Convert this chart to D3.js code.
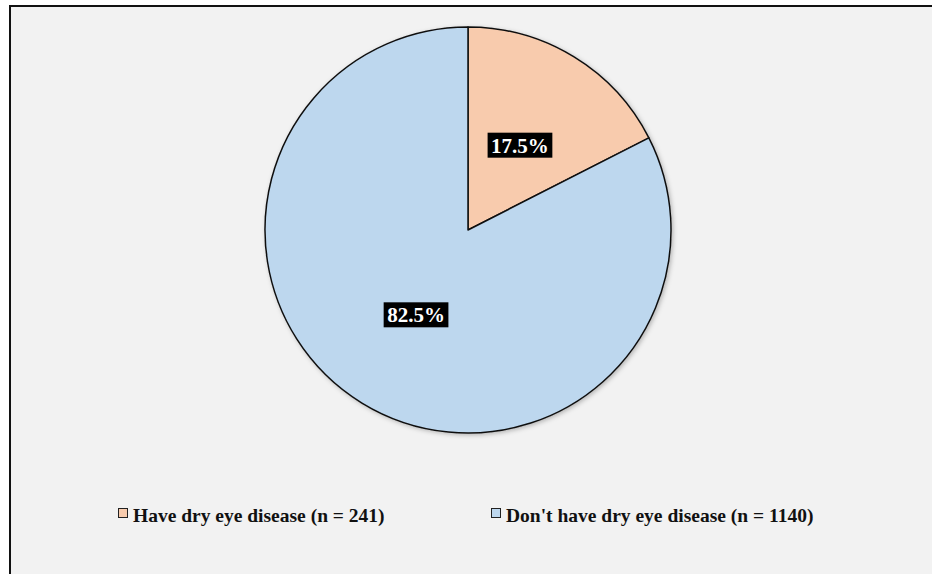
<!DOCTYPE html>
<html>
<head>
<meta charset="utf-8">
<script src="https://cdn.jsdelivr.net/npm/d3@7/dist/d3.min.js"></script>
<style>
  html, body { margin: 0; padding: 0; background: #ffffff; }
  svg { display: block; }
</style>
</head>
<body>
<svg id="chart" width="932" height="574"></svg>
<script>
// Survey groups, counts and shares
const groups = ["Have dry eye disease", "Don't have dry eye disease"];
const counts = [241, 1140];
const shares = [17.5, 82.5];
const colors = ["#f8cbad", "#bdd7ee"];

const W = 932, H = 574;
const svg = d3.select("#chart");

// framed plot area
svg.append("rect")
  .attr("x", 10).attr("y", 6)
  .attr("width", W + 10).attr("height", H + 10)
  .attr("fill", "#f2f2f2")
  .attr("stroke", "#111").attr("stroke-width", 2);

const defs = svg.append("defs");
const shadow = defs.append("filter").attr("id", "shadow")
  .attr("x", "-10%").attr("y", "-10%").attr("width", "120%").attr("height", "120%");
shadow.append("feDropShadow")
  .attr("dx", 1.5).attr("dy", 1.5).attr("stdDeviation", 2)
  .attr("flood-color", "#000").attr("flood-opacity", 0.25);

const cx = 468, cy = 230, R = 203;

const data = groups.map((g, i) => ({ group: g, count: counts[i], share: shares[i], color: colors[i] }));

const pie = d3.pie().sort(null).value(d => d.share);
const arc = d3.arc().innerRadius(0).outerRadius(R);
const labelArc = d3.arc().innerRadius(R * 0.49).outerRadius(R * 0.49);

const g = svg.append("g").attr("transform", `translate(${cx},${cy})`);

g.append("g").attr("filter", "url(#shadow)")
  .selectAll("path")
  .data(pie(data))
  .join("path")
  .attr("d", arc)
  .attr("fill", d => d.data.color)
  .attr("stroke", "#111")
  .attr("stroke-width", 1.5)
  .attr("stroke-linejoin", "round");

// percentage labels in black boxes
const labels = g.selectAll("g.lbl")
  .data(pie(data))
  .join("g")
  .attr("class", "lbl")
  .attr("transform", d => `translate(${labelArc.centroid(d)})`);

labels.append("text")
  .attr("text-anchor", "middle")
  .attr("dy", "0.35em")
  .attr("font-family", "'Liberation Serif', 'Times New Roman', serif")
  .attr("font-weight", "bold")
  .attr("font-size", 21)
  .attr("fill", "#ffffff")
  .text(d => d3.format(".1f")(d.data.share) + "%");

labels.each(function() {
  const t = d3.select(this).select("text");
  const b = t.node().getBBox();
  d3.select(this).insert("rect", "text")
    .attr("x", b.x - 3.5).attr("y", -12.5)
    .attr("width", b.width + 7).attr("height", 25)
    .attr("fill", "#000");
});

// legend
const legendX = [118, 491];
const legend = svg.selectAll("g.legend")
  .data(data)
  .join("g")
  .attr("class", "legend")
  .attr("transform", (d, i) => `translate(${legendX[i]},508)`);

legend.append("rect")
  .attr("x", 0.5).attr("y", 0.5)
  .attr("width", 9).attr("height", 9)
  .attr("fill", d => d.color)
  .attr("stroke", "#222").attr("stroke-width", 1);

legend.append("text")
  .attr("x", 15).attr("y", 13.5)
  .attr("font-family", "'Liberation Serif', 'Times New Roman', serif")
  .attr("font-weight", "bold")
  .attr("font-size", 19.5)
  .attr("fill", "#111")
  .text(d => `${d.group} (n = ${d.count})`);
</script>
</body>
</html>
